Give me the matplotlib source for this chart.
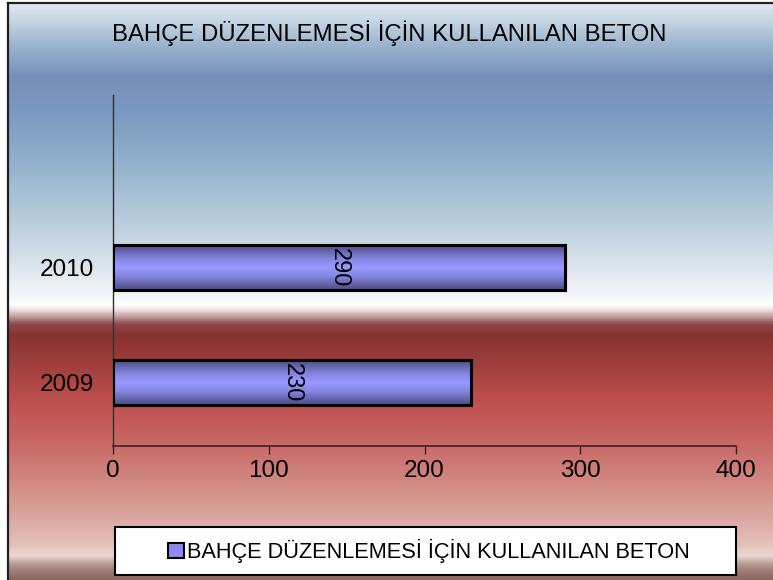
import numpy as np
import matplotlib
matplotlib.use("Agg")
import matplotlib.pyplot as plt
from matplotlib.colors import LinearSegmentedColormap
from matplotlib.patches import Rectangle, Patch

# ---- data ----
categories = ["2009", "2010"]
values = [230, 290]
series_name = "BAHÇE DÜZENLEMESİ İÇİN KULLANILAN BETON"
title = "BAHÇE DÜZENLEMESİ İÇİN KULLANILAN BETON"
x_ticks = [0, 100, 200, 300, 400]

plt.rcParams['font.family'] = ['Liberation Sans', 'DejaVu Sans']

W, H = 773, 580
fig = plt.figure(figsize=(W / 100, H / 100), dpi=100)
fig.patch.set_facecolor('white')

# ---- background gradient (figure level) ----
stops = [
    (3, '#dde8f0'), (20, '#c4d4e3'), (45, '#9ab2cc'), (75, '#7890b8'),
    (110, '#7a99c0'), (160, '#92b0cc'), (220, '#b9cddc'), (270, '#dfe7ee'),
    (300, '#f8fafb'), (306, '#ffffff'), (311, '#e6d6d6'), (318, '#b89090'),
    (325, '#904646'), (335, '#863131'), (360, '#9b3d3b'), (400, '#bc4f4d'),
    (440, '#c86563'), (480, '#d08680'), (520, '#dba7a1'), (548, '#e5c3bd'),
    (557, '#ecd9d3'), (563, '#c6aea6'), (570, '#a8877f'), (580, '#8c6862'),
]
y0 = stops[0][0]
span = stops[-1][0] - y0
cmap_bg = LinearSegmentedColormap.from_list(
    'bg', [((p - y0) / span, c) for p, c in stops], N=512)
bg_ax = fig.add_axes([8 / W, 0, 1 - 8 / W, 1 - 3 / H], zorder=-10)
grad = np.linspace(0, 1, 200).reshape(-1, 1)
bg_ax.imshow(grad, aspect='auto', cmap=cmap_bg, extent=[0, 1, 0, 1],
             origin='upper', interpolation='bilinear')
bg_ax.set_xlim(0, 1)
bg_ax.set_ylim(0, 1)
bg_ax.set_xticks([])
bg_ax.set_yticks([])
for s in ['right', 'bottom']:
    bg_ax.spines[s].set_visible(False)
for s in ['left', 'top']:
    bg_ax.spines[s].set_color('#202020')
    bg_ax.spines[s].set_linewidth(1.6)

# ---- main axes ----
ax = fig.add_axes([113 / W, (H - 446) / H, (736 - 113) / W, (446 - 95) / H])
ax.patch.set_alpha(0)
ypos = np.arange(len(categories))
bar_h = 0.39
bars = ax.barh(ypos, values, height=bar_h, color='#9999ff',
               edgecolor='black', linewidth=2.2, zorder=3)

bar_cmap = LinearSegmentedColormap.from_list(
    'bar', [(0, '#4c4c86'), (0.3, '#8585e0'), (0.5, '#9999ff'),
            (0.7, '#8585e0'), (1, '#4c4c86')])
bgrad = np.linspace(0, 1, 100).reshape(-1, 1)
for b in bars:
    x0, yb = b.get_x(), b.get_y()
    im = ax.imshow(bgrad, aspect='auto', cmap=bar_cmap,
                   extent=[x0, x0 + b.get_width(), yb, yb + b.get_height()],
                   origin='lower', zorder=3.5, interpolation='bilinear')
    im.set_clip_path(b)
    ax.add_patch(Rectangle((x0, yb), b.get_width(), b.get_height(),
                           fill=False, edgecolor='black', linewidth=2.2,
                           zorder=4))

for yp, v in zip(ypos, values):
    ax.text(v / 2, yp, str(v), rotation=-90, ha='center', va='center',
            fontsize=17, color='black', zorder=5)

ax.set_xlim(0, 400)
ax.set_ylim(-0.553, 2.5)
ax.set_xticks(x_ticks)
ax.set_xticklabels([str(t) for t in x_ticks], fontsize=17.5)
ax.set_yticks(ypos)
ax.set_yticklabels(categories, fontsize=17.5)
ax.tick_params(axis='y', length=0, pad=14)
ax.tick_params(axis='x', direction='out', length=6, width=1,
               color='#3a2020', pad=4)
for s in ['top', 'right']:
    ax.spines[s].set_visible(False)
ax.spines['left'].set_color('#303030')
ax.spines['bottom'].set_color('#3a2020')
ax.spines['left'].set_linewidth(1)
ax.spines['bottom'].set_linewidth(1.2)

fig.text(389 / W, 1 - 33 / H, title, ha='center', va='center',
         fontsize=17.2, color='black')

# ---- legend ----
lx0, lx1, ly0, ly1 = 115, 736, 527, 575
fig.patches.append(Rectangle((lx0 / W, 1 - ly1 / H), (lx1 - lx0) / W,
                             (ly1 - ly0) / H, transform=fig.transFigure,
                             facecolor='white', edgecolor='black',
                             linewidth=1.5, zorder=1))
handle = Patch(facecolor='#8c8cf0', edgecolor='black', linewidth=1.5)
leg = fig.legend(handles=[handle], labels=[series_name], loc='center',
                 bbox_to_anchor=((168 + 690) / 2 / W,
                                 1 - (ly0 + ly1) / 2 / H),
                 frameon=False, fontsize=15.7, handlelength=0.7,
                 handleheight=0.7, handletextpad=0.15)

fig.savefig('out.png', dpi=100, facecolor=fig.get_facecolor())
